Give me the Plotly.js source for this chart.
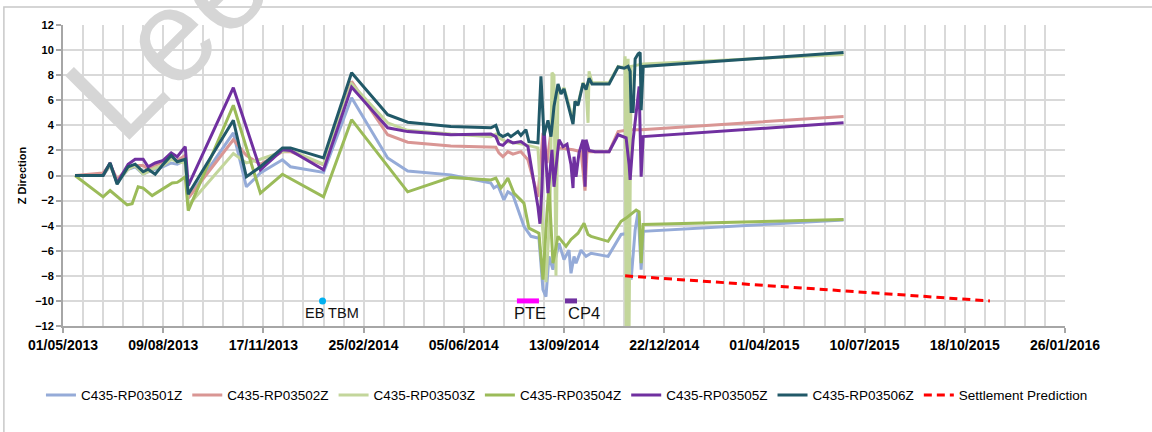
<!DOCTYPE html>
<html>
<head>
<meta charset="utf-8">
<script src="https://cdn.plot.ly/plotly-3.0.1.min.js"></script>
<style>
  body { margin: 0; background: #fff; }
  #chart { width: 1152px; height: 432px; }
</style>
</head>
<body>
<div id="chart"></div>
<script>
// Readings up to July 2014 share the same survey dates (except RP03504Z)
var earlyDates = ['2013-05-13','2013-06-10','2013-06-17','2013-06-24','2013-07-05','2013-07-12','2013-07-20','2013-07-25',
                  '2013-08-01','2013-08-09','2013-08-17','2013-08-23','2013-08-31','2013-09-03','2013-10-18','2013-10-31',
                  '2013-11-14','2013-12-06','2013-12-14','2014-01-16','2014-02-13','2014-03-21','2014-04-10','2014-05-23','2014-07-02'];

var rp01EarlyZ = [0, 0, 0.8, -0.5, 0.5, 0.7, 0.1, 0.3, 0.5, 0.7, 1.0, 0.9, 1.2, -1.8, 3.4, -0.9, 0.2, 1.25, 0.7, 0.25, 6.2, 1.4, 0.35, 0.05, -0.6];
var rp02EarlyZ = [0, 0.2, 0.9, -0.3, 0.6, 0.8, 0.8, 0.5, 0.8, 1.1, 1.4, 1.2, 1.6, -1.8, 2.85, 1.6, 0.9, 1.9, 1.9, 0.85, 7.5, 3.25, 2.65, 2.35, 2.25];
var rp03EarlyZ = [0, 0, 0.8, -0.5, 0.5, 0.8, 0.1, 0.3, 0.6, 0.8, 1.3, 1.1, 1.0, -2.4, 1.75, 1.0, 1.3, 1.9, 2.0, 0.9, 7.3, 4.2, 3.6, 3.3, 3.1];
var rp05EarlyZ = [0, 0, 1.0, -0.6, 0.9, 1.3, 1.3, 0.7, 1.0, 1.2, 1.8, 1.5, 2.3, -0.8, 7.0, 3.85, 0.45, 2.05, 2.0, 0.45, 7.05, 3.8, 3.5, 3.25, 3.3];
var rp06EarlyZ = [0, 0, 1.0, -0.7, 0.7, 0.9, 0.3, 0.5, 0.1, 0.9, 1.6, 1.1, 1.3, -1.5, 4.4, -0.1, 0.7, 2.2, 2.2, 1.4, 8.2, 4.85, 4.25, 3.9, 3.8];

var rp04EarlyDates = ['2013-05-13','2013-06-10','2013-06-17','2013-07-04','2013-07-09','2013-07-15','2013-07-20','2013-07-29',
                      '2013-08-18','2013-08-23','2013-08-26','2013-08-31','2013-09-03','2013-10-18','2013-11-14','2013-12-06',
                      '2014-01-16','2014-02-13','2014-04-10','2014-05-23','2014-07-02'];
var rp04EarlyZ = [0, -1.7, -1.2, -2.35, -2.25, -0.9, -1.0, -1.6, -0.6, -0.55, -0.4, -0.1, -2.8, 5.6, -1.4, 0.1, -1.7, 4.45, -1.3, -0.15, -0.35];

// Dense readings from July 2014 on
var rp01LateDates = ['2014-07-05','2014-07-09','2014-07-15','2014-07-19','2014-07-24','2014-08-04','2014-08-11','2014-08-19','2014-08-23',
                     '2014-08-26','2014-08-29','2014-09-02','2014-09-08','2014-09-13','2014-09-18','2014-09-20','2014-09-23','2014-09-25',
                     '2014-09-30','2014-10-05','2014-10-10','2014-10-27','2014-11-09','2014-11-16','2014-11-19','2014-11-23','2014-11-26',
                     '2014-11-29','2014-12-01','2015-06-19'];
var rp01LateZ = [-1.0, -0.8, -1.95, -1.3, -1.55, -4.05, -4.85, -5.0, -9.1, -9.65, -6.45, -7.5, -5.4, -6.7, -5.95, -7.8, -6.45, -7.0,
                 -5.95, -6.45, -6.2, -6.45, -4.7, -4.6, -8.3, -4.35, -2.85, -7.5, -4.45, -3.55];

var rp02LateDates = ['2014-07-07','2014-07-10','2014-07-14','2014-07-19','2014-07-24','2014-08-01','2014-08-08','2014-08-18','2014-08-23',
                     '2014-08-27','2014-09-02','2014-09-08','2014-09-22','2014-09-30','2014-10-04','2014-10-06','2014-10-14','2014-10-28',
                     '2014-11-06','2014-11-17','2014-11-29','2015-06-19'];
var rp02LateZ = [2.25, 1.8, 1.5, 1.9, 1.7, 1.9, 1.25, -1.7, 3.4, 1.0, 4.7, 2.2, 2.05, 1.9, -1.2, 1.9, 1.9, 1.9, 3.5, 3.65, 3.65, 4.7];

var rp03LateDates = ['2014-07-07','2014-07-10','2014-07-17','2014-07-27','2014-08-08','2014-08-18','2014-08-21','2014-08-26','2014-08-30',
                     '2014-09-01','2014-09-03','2014-09-05','2014-09-07','2014-09-10','2014-09-13','2014-09-16','2014-09-18','2014-09-22',
                     '2014-09-24','2014-09-27','2014-10-02','2014-10-05','2014-10-07','2014-10-08','2014-10-11','2014-10-28','2014-11-06',
                     '2014-11-12','2014-11-13','2014-11-14','2014-11-16','2014-11-17','2014-11-19','2014-12-01','2015-06-19'];
var rp03LateZ = [3.3, 3.0, 2.7, 2.6, 2.4, 2.2, -2.0, -8.5, -3.0, 8.2, 8.0, -8.0, 7.2, 6.6, 7.0, 6.2, 5.6, 4.3, 5.9, 5.7, 7.4, 6.9, 4.2,
                 8.3, 7.4, 7.4, 8.7, 8.6, 9.5, -12, 9.3, -12, 8.7, 8.9, 9.65];

var rp04LateDates = ['2014-07-07','2014-07-12','2014-07-15','2014-07-19','2014-07-25','2014-08-04','2014-08-09','2014-08-19','2014-08-23',
                     '2014-08-27','2014-08-29','2014-09-02','2014-09-07','2014-09-15','2014-09-20','2014-09-27','2014-10-03','2014-10-07',
                     '2014-10-10','2014-10-27','2014-11-09','2014-11-14','2014-11-20','2014-11-24','2014-11-27','2014-11-29','2014-12-01',
                     '2015-06-19'];
var rp04LateZ = [-0.2, -1.0, -0.7, -0.2, -1.4, -2.2, -4.2, -4.6, -8.3, -3.0, -0.9, -7.0, -4.85, -5.65, -5.1, -4.6, -3.8, -4.7, -4.85,
                 -5.25, -3.65, -3.4, -3.0, -2.75, -2.9, -7.0, -3.9, -3.5];

var rp05LateDates = ['2014-07-07','2014-07-10','2014-07-14','2014-07-19','2014-07-24','2014-08-01','2014-08-08','2014-08-18','2014-08-20',
                     '2014-08-22','2014-08-24','2014-08-28','2014-09-01','2014-09-03','2014-09-08','2014-09-12','2014-09-16','2014-09-20',
                     '2014-09-22','2014-09-23','2014-09-25','2014-09-28','2014-10-02','2014-10-04','2014-10-05','2014-10-08','2014-10-14',
                     '2014-10-28','2014-11-06','2014-11-14','2014-11-17','2014-11-18','2014-11-21','2014-11-25','2014-11-27','2014-11-29',
                     '2014-12-01','2015-06-19'];
var rp05LateZ = [3.1, 2.5, 2.4, 2.8, 2.6, 2.7, 2.3, -2.5, -3.85, -1.0, 3.9, -1.4, 2.05, -0.9, 2.85, 2.3, 2.5, 0.85, -1.0, 1.5, -0.1,
                 1.8, 2.85, -0.9, 2.85, 2.0, 1.9, 1.9, 3.25, 3.0, 0.85, -0.35, 2.85, 5.4, 7.1, -0.1, 3.1, 4.2];

var rp06LateDates = ['2014-07-07','2014-07-10','2014-07-14','2014-07-19','2014-07-22','2014-07-29','2014-08-01','2014-08-06','2014-08-09',
                     '2014-08-18','2014-08-21','2014-08-24','2014-08-28','2014-08-31','2014-09-03','2014-09-07','2014-09-10','2014-09-13',
                     '2014-09-16','2014-09-18','2014-09-22','2014-09-24','2014-09-27','2014-10-02','2014-10-05','2014-10-08','2014-10-11',
                     '2014-10-28','2014-11-06','2014-11-12','2014-11-16','2014-11-18','2014-11-19','2014-11-21','2014-11-23','2014-11-26',
                     '2014-11-28','2014-11-29','2014-12-01','2015-06-19'];
var rp06LateZ = [4.0, 3.3, 3.1, 3.3, 3.1, 3.5, 3.2, 3.65, 2.7, 2.6, 7.9, 3.2, 4.4, 3.1, 5.5, 7.3, 6.5, 6.9, 6.0, 5.5, 4.1, 5.9, 5.6,
                 7.35, 6.85, 7.75, 7.3, 7.3, 8.65, 8.55, 8.7, 8.3, 5.1, 5.1, 9.3, 9.7, 9.8, 5.2, 8.7, 9.8];

var predDates = ['2014-11-13', '2015-11-12'];
var predZ     = [-8, -10];

// Event markers along the -10 line
var ebTbmDates = ['2014-01-15'];
var pteDates   = ['2014-07-28', '2014-08-19'];
var cp4Dates   = ['2014-09-14', '2014-09-26'];
var eventZ     = [-10, -10];
var labelText  = ['EB TBM', 'PTE', 'CP4'];
var labelDates = ['2014-01-24', '2014-08-10', '2014-10-03'];
var labelSize  = [14.5, 16.5, 16.5];

var names  = ['C435-RP03501Z', 'C435-RP03502Z', 'C435-RP03503Z', 'C435-RP03504Z', 'C435-RP03505Z', 'C435-RP03506Z'];
var colors = ['#95abd8', '#d99694', '#c3d69b', '#9bbb59', '#7030a0', '#215968'];

var FONT = 'Liberation Sans, Arial, sans-serif';
var DAY = 86400000;

var seriesX = [
    earlyDates.concat(rp01LateDates),
    earlyDates.concat(rp02LateDates),
    earlyDates.concat(rp03LateDates),
    rp04EarlyDates.concat(rp04LateDates),
    earlyDates.concat(rp05LateDates),
    earlyDates.concat(rp06LateDates)
];
var seriesY = [
    rp01EarlyZ.concat(rp01LateZ),
    rp02EarlyZ.concat(rp02LateZ),
    rp03EarlyZ.concat(rp03LateZ),
    rp04EarlyZ.concat(rp04LateZ),
    rp05EarlyZ.concat(rp05LateZ),
    rp06EarlyZ.concat(rp06LateZ)
];

var data = [];
for (var i = 0; i < names.length; i++) {
    data.push({
        x: seriesX[i], y: seriesY[i], name: names[i],
        type: 'scatter', mode: 'lines',
        line: {color: colors[i], width: 3}
    });
}
data.push({x: predDates, y: predZ, name: 'Settlement Prediction', type: 'scatter', mode: 'lines',
           line: {color: '#ff0000', width: 3, dash: '8px,5px'}});
data.push({x: ebTbmDates, y: [eventZ[0]], type: 'scatter', mode: 'markers', showlegend: false,
           marker: {color: '#00b0f0', size: 7}});
data.push({x: pteDates, y: eventZ, type: 'scatter', mode: 'lines', showlegend: false,
           line: {color: '#ff00ff', width: 5}});
data.push({x: cp4Dates, y: eventZ, type: 'scatter', mode: 'lines', showlegend: false,
           line: {color: '#7030a0', width: 5}});

var annotations = [];
for (var k = 0; k < labelText.length; k++) {
    annotations.push({
        x: labelDates[k], y: -10, text: labelText[k], showarrow: false,
        yanchor: 'middle', yshift: -12,
        font: {family: FONT, size: labelSize[k], color: '#111'}
    });
}
// Watermark
annotations.push({
    xref: 'paper', yref: 'paper', x: 0.104, y: 0.96, xanchor: 'center', yanchor: 'middle',
    text: 'Lee', showarrow: false,
    textangle: -45, font: {family: FONT, size: 132, color: '#d6d6d6'}
});

var layout = {
    width: 1152, height: 432,
    margin: {l: 63, r: 87, t: 25, b: 106},
    paper_bgcolor: '#fff', plot_bgcolor: '#fff',
    font: {family: FONT, color: '#000'},
    showlegend: true,
    xaxis: {
        type: 'date',
        range: ['2013-05-01', '2016-01-26'],
        tick0: '2013-05-01', dtick: 100 * DAY,
        tickformat: '%d/%m/%Y',
        tickfont: {family: FONT, size: 14, weight: 'bold', color: '#000'},
        showgrid: true, gridcolor: '#d9d9d9', gridwidth: 2,
        minor: {tick0: '2013-05-01', dtick: 20 * DAY, showgrid: true, gridcolor: '#d9d9d9', gridwidth: 2},
        showline: true, linecolor: '#a6a6a6', linewidth: 2,
        ticks: 'outside', ticklen: 5, tickcolor: '#a6a6a6', tickwidth: 2,
        zeroline: false
    },
    yaxis: {
        range: [-12, 12], dtick: 2,
        tickfont: {family: FONT, size: 11, weight: 'bold', color: '#000'},
        title: {text: 'Z Direction', font: {family: FONT, size: 11, weight: 'bold', color: '#000'}, standoff: 6},
        showgrid: true, gridcolor: '#d9d9d9', gridwidth: 2,
        showline: true, linecolor: '#a6a6a6', linewidth: 2,
        ticks: 'outside', ticklen: 5, tickcolor: '#a6a6a6', tickwidth: 2,
        zeroline: false
    },
    legend: {
        orientation: 'h', x: -0.022, xanchor: 'left', y: -0.23, yanchor: 'middle',
        font: {family: FONT, size: 13.5, color: '#000'}
    },
    annotations: annotations,
    shapes: [{
        type: 'rect', xref: 'paper', yref: 'paper',
        x0: -0.059, x1: 1.3, y0: -0.6, y1: 1.06,
        line: {color: '#c8c8c8', width: 1.5}
    }]
};

Plotly.newPlot('chart', data, layout, {staticPlot: true, displayModeBar: false});
</script>
</body>
</html>
